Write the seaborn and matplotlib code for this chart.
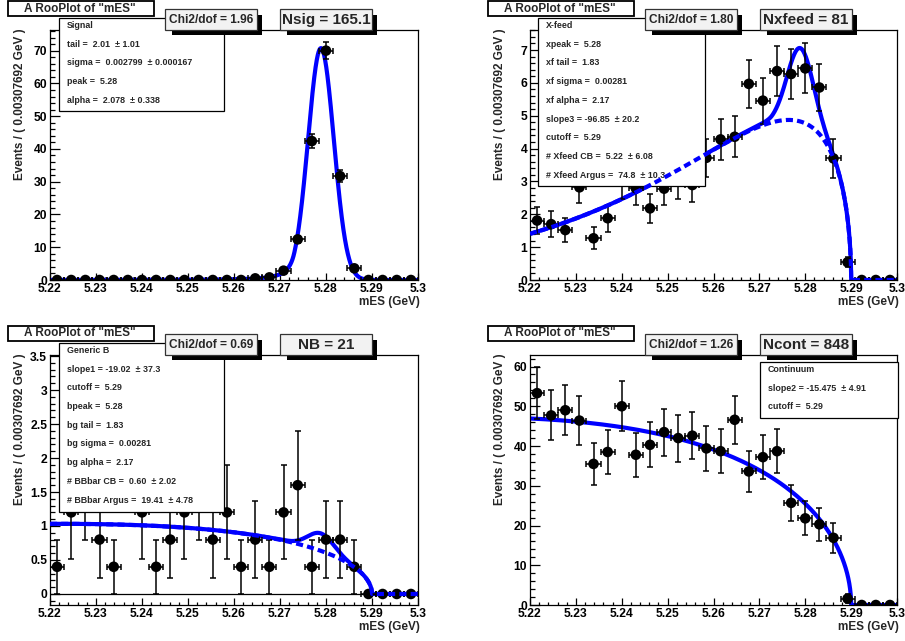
import numpy as np
import pandas as pd
import matplotlib
matplotlib.use("Agg")
import matplotlib.pyplot as plt
from matplotlib.patches import Rectangle
from matplotlib.ticker import MultipleLocator, FuncFormatter
import seaborn as sns

# ---------------- data: weighted event counts per mES bin ----------------
mes_lo, mes_hi, n_bins = 5.22, 5.30, 26

signal_counts = [0, 0, 0, 0, 0, 0, 0, 0, 0, 0, 0, 0, 0, 0, 0.5, 0.8, 2.85, 12.4,
                 42.4, 70.0, 31.7, 3.56, 0, 0, 0, 0]
signal_errors = [0, 0, 0, 0, 0, 0, 0, 0, 0, 0, 0, 0, 0, 0, 0.23, 0.29, 0.54, 1.14,
                 2.10, 2.70, 1.82, 0.61, 0, 0, 0, 0]

xfeed_counts = [1.81, 1.70, 1.52, 2.82, 1.27, 1.88, 3.00, 2.79, 2.18, 2.78, 3.00, 2.89,
                3.72, 4.28, 4.36, 5.97, 5.46, 6.36, 6.27, 6.44, 5.86, 3.70, 0.54, 0, 0, 0]
xfeed_errors = [0.40, 0.39, 0.37, 0.48, 0.34, 0.41, 0.52, 0.50, 0.44, 0.50, 0.52, 0.51,
                0.58, 0.62, 0.63, 0.73, 0.70, 0.76, 0.75, 0.76, 0.73, 0.58, 0.15, 0, 0, 0]

genb_counts = [0.4, 1.2, 1.6, 0.8, 0.4, 2.4, 1.2, 0.4, 0.8, 1.2, 1.6, 0.8, 1.2, 0.4,
               0.8, 0.4, 1.2, 1.6, 0.4, 0.8, 0.8, 0.4, 0, 0, 0, 0]
genb_errors = [0.40, 0.69, 0.80, 0.57, 0.40, 0.98, 0.69, 0.40, 0.57, 0.69, 0.80, 0.57,
               0.69, 0.40, 0.57, 0.40, 0.69, 0.80, 0.40, 0.57, 0.57, 0.40, 0, 0, 0, 0]

cont_counts = [53.3, 47.7, 49.0, 46.4, 35.5, 38.5, 50.0, 37.8, 40.3, 43.5, 42.0, 42.6,
               39.4, 38.7, 46.6, 33.6, 37.2, 38.7, 25.7, 21.8, 20.3, 16.9, 1.6, 0, 0, 0]
cont_errors = [6.6, 6.3, 6.3, 6.2, 5.3, 5.6, 6.3, 5.6, 5.7, 5.9, 5.9, 5.9,
               5.7, 5.6, 6.1, 5.2, 5.5, 5.6, 4.6, 4.3, 4.1, 3.8, 1.1, 0, 0, 0]

# ---------------- fit results ----------------
sig_tail, sig_tail_err = 2.01, 1.01
sig_sigma, sig_sigma_err = 0.002799, 0.000167
sig_peak = 5.2789
sig_alpha, sig_alpha_err = 2.078, 0.338
n_sig = 165.1
chi2_sig = 1.96

xf_peak, xf_tail, xf_sigma, xf_alpha = 5.2789, 1.83, 0.00281, 2.17
slope3, slope3_err = -96.85, 20.2
xf_cutoff = 5.29
n_xf_cb, n_xf_cb_err = 5.22, 6.08
n_xf_arg, n_xf_arg_err = 74.8, 10.3
n_xfeed = 81
chi2_xf = 1.80

slope1, slope1_err = -19.02, 37.3
bb_cutoff = 5.29
bb_peak, bb_tail, bb_sigma, bb_alpha = 5.2789, 1.83, 0.00281, 2.17
n_bb_cb, n_bb_cb_err = 0.60, 2.02
n_bb_arg, n_bb_arg_err = 19.41, 4.78
n_bb = 21
chi2_bb = 0.69

slope2, slope2_err = -15.475, 4.91
cont_cutoff = 5.29
n_cont = 848
chi2_cont = 1.26

# ---------------- model shapes ----------------
bin_width = (mes_hi - mes_lo) / n_bins
centers = mes_lo + bin_width * (np.arange(n_bins) + 0.5)
grid = np.linspace(mes_lo, mes_hi, 4001)


def argus(m, m0, c):
    t = 1.0 - (m / m0) ** 2
    tp = np.clip(t, 0.0, None)
    return np.where(t > 0, m * np.sqrt(tp) * np.exp(c * tp), 0.0)


def crystal_ball(m, m0, sigma, alpha, n):
    t = (m - m0) / sigma
    a = abs(alpha)
    A = (n / a) ** n * np.exp(-0.5 * a * a)
    B = n / a - a
    tail = A * np.maximum(B - t, 1e-9) ** (-n)
    return np.where(t > -a, np.exp(-0.5 * t * t), tail)


def normed(f):
    return f / np.trapezoid(f, grid)


sig_curve = n_sig * bin_width * normed(crystal_ball(grid, sig_peak, sig_sigma, sig_alpha, sig_tail))

xf_arg = n_xf_arg * bin_width * normed(argus(grid, xf_cutoff, slope3))
xf_cb = n_xf_cb * bin_width * normed(crystal_ball(grid, xf_peak, xf_sigma, xf_alpha, xf_tail))
xf_total = xf_arg + xf_cb

bb_arg = n_bb_arg * bin_width * normed(argus(grid, bb_cutoff, slope1))
bb_cb = n_bb_cb * bin_width * normed(crystal_ball(grid, bb_peak, bb_sigma, bb_alpha, bb_tail))
bb_total = bb_arg + bb_cb

cont_curve = n_cont * bin_width * normed(argus(grid, cont_cutoff, slope2))

# ---------------- figure ----------------
sns.set_style("white")
plt.rcParams["font.family"] = ["Liberation Sans", "DejaVu Sans"]
plt.rcParams["font.weight"] = "bold"

W, H = 905, 641
fig = plt.figure(figsize=(W / 100, H / 100), dpi=100)
fig.patch.set_facecolor("white")


def fx(px):
    return px / W


def fy(py):
    return 1 - py / H


def rect(x0, y0, x1, y1, **kw):
    return Rectangle((fx(x0), fy(y1)), (x1 - x0) / W, (y1 - y0) / H,
                     transform=fig.transFigure, **kw)


BLUE = "#0000ff"
DASH = (0, (1.7, 1.0))


def panel(frame, ylim, ymajor, yminor, counts, errors, solid, dashed,
          dx, dy, chi2, ntext, info_box, info_lines, zero_line=False):
    l, t, r, b = frame
    ax = fig.add_axes([fx(l), fy(b), (r - l) / W, (b - t) / H])
    ax.set_facecolor("white")

    sns.lineplot(data=pd.DataFrame({"mES": grid, "y": solid}), x="mES", y="y",
                 ax=ax, color=BLUE, linewidth=3.0, estimator=None, sort=False,
                 zorder=2)
    if dashed is not None:
        sns.lineplot(data=pd.DataFrame({"mES": grid, "y": dashed}), x="mES", y="y",
                     ax=ax, color=BLUE, linewidth=3.0, estimator=None, sort=False,
                     linestyle=DASH, zorder=5)
    if zero_line:
        ax.axhline(0, color="black", lw=0.9, zorder=2.4)

    ax.errorbar(centers, counts, xerr=bin_width / 2, yerr=errors, fmt="none",
                ecolor="black", elinewidth=1.1, capsize=2.4, capthick=1.1, zorder=3)
    sns.scatterplot(x=centers, y=counts, ax=ax, color="black", s=58,
                    edgecolor="none", linewidth=0, zorder=3.5, legend=False)

    ax.set_xlim(mes_lo, mes_hi)
    ax.set_ylim(*ylim)
    ax.set_xlabel("")
    ax.set_ylabel("")
    ax.xaxis.set_major_locator(MultipleLocator(0.01))
    ax.xaxis.set_minor_locator(MultipleLocator(0.002))
    ax.yaxis.set_major_locator(MultipleLocator(ymajor))
    ax.yaxis.set_minor_locator(MultipleLocator(yminor))
    fmt = FuncFormatter(lambda v, p: f"{round(v, 3):g}")
    ax.xaxis.set_major_formatter(fmt)
    ax.yaxis.set_major_formatter(fmt)
    ax.tick_params(axis="both", which="both", direction="in", color="black",
                   width=0.9, bottom=True, left=True, top=False, right=False,
                   labelsize=8.7, labelcolor="black")
    ax.tick_params(axis="x", which="major", length=5.0, pad=2.5)
    ax.tick_params(axis="x", which="minor", length=2.5)
    ax.tick_params(axis="y", which="major", length=7.5, pad=2)
    ax.tick_params(axis="y", which="minor", length=3.8)
    for s in ax.spines.values():
        s.set_color("black")
        s.set_linewidth(0.9)

    # axis titles
    fig.text(fx(l - 30), fy(t - 2), "Events / ( 0.00307692 GeV )", rotation=90,
             ha="center", va="top", fontsize=8.5, weight="bold")
    fig.text(fx(r + 2), fy(b + 22), "mES (GeV)", ha="right", va="center",
             fontsize=8.5, weight="bold")

    # parameter box sits between the solid and dashed curves
    bx0, by0, bx1, by1 = info_box
    ax.add_patch(rect(bx0, by0, bx1, by1, facecolor="white", edgecolor="black",
                      lw=0.9, clip_on=False, zorder=4))
    for i, line in enumerate(info_lines):
        ax.text(fx(bx0 + 8), fy(by0 + 7.5 + i * 18.7), line, transform=fig.transFigure,
                ha="left", va="center", fontsize=6.4, weight="bold", zorder=4.5,
                clip_on=False)

    # title box
    fig.add_artist(rect(dx + 8, dy + 1, dx + 154, dy + 16, facecolor="white",
                        edgecolor="black", lw=1.3, zorder=1.2))
    fig.text(fx(dx + 80), fy(dy + 8.5), 'A RooPlot of "mES"', ha="center", va="center",
             fontsize=8.5, weight="bold", zorder=1.3)

    # chi2 and yield boxes with drop shadow
    for (x0, x1, txt, fs) in [(dx + 165, dx + 257, chi2, 8.6),
                              (dx + 280, dx + 372, ntext, 11.0)]:
        y0, y1 = dy + 9, dy + 30
        fig.add_artist(rect(x0 + 7, y0 + 6, x1 + 5, y1 + 5, facecolor="black",
                            edgecolor="none", zorder=1.4))
        fig.add_artist(rect(x0, y0, x1, y1, facecolor="#f2f2f2", edgecolor="#333333",
                            lw=0.9, zorder=1.5))
        fig.text(fx((x0 + x1) / 2), fy((y0 + y1) / 2 + 0.5), txt, ha="center",
                 va="center", fontsize=fs, weight="bold", zorder=1.6)
    return ax


panel((50, 30, 418, 280), (0, 76.3), 10, 2, signal_counts, signal_errors,
      sig_curve, None, 0, 0, f"Chi2/dof = {chi2_sig:.2f}", f"Nsig = {n_sig:.1f}",
      (59, 18, 224, 111),
      ["Signal",
       f"tail =  {sig_tail:.2f}  \u00b1 {sig_tail_err:.2f}",
       f"sigma =  {sig_sigma:.6f}  \u00b1 {sig_sigma_err:.6f}",
       f"peak =  {sig_peak:.2f}",
       f"alpha =  {sig_alpha:.3f}  \u00b1 {sig_alpha_err:.3f}"])

panel((530, 30, 897, 280), (0, 7.61), 1, 0.2, xfeed_counts, xfeed_errors,
      xf_total, xf_arg, 480, 0, f"Chi2/dof = {chi2_xf:.2f}", f"Nxfeed = {n_xfeed}",
      (538, 18, 705, 186),
      ["X-feed",
       f"xpeak =  {xf_peak:.2f}",
       f"xf tail =  {xf_tail:.2f}",
       f"xf sigma =  {xf_sigma:.5f}",
       f"xf alpha =  {xf_alpha:.2f}",
       f"slope3 = {slope3:.2f}  \u00b1 {slope3_err:.1f}",
       f"cutoff =  {xf_cutoff:.2f}",
       f"# Xfeed CB =  {n_xf_cb:.2f}  \u00b1 {n_xf_cb_err:.2f}",
       f"# Xfeed Argus =  {n_xf_arg:.1f}  \u00b1 {n_xf_arg_err:.1f}"])

panel((50, 355, 418, 605), (-0.162, 3.515), 0.5, 0.1, genb_counts, genb_errors,
      bb_total, bb_arg, 0, 325, f"Chi2/dof = {chi2_bb:.2f}", f"NB = {n_bb}",
      (59, 343, 224, 512),
      ["Generic B",
       f"slope1 = {slope1:.2f}  \u00b1 {slope1_err:.1f}",
       f"cutoff =  {bb_cutoff:.2f}",
       f"bpeak =  {bb_peak:.2f}",
       f"bg tail =  {bb_tail:.2f}",
       f"bg sigma =  {bb_sigma:.5f}",
       f"bg alpha =  {bb_alpha:.2f}",
       f"# BBbar CB =  {n_bb_cb:.2f}  \u00b1 {n_bb_cb_err:.2f}",
       f"# BBbar Argus =  {n_bb_arg:.2f}  \u00b1 {n_bb_arg_err:.2f}"],
      zero_line=True)

panel((530, 355, 897, 605), (0, 62.9), 10, 2, cont_counts, cont_errors,
      cont_curve, None, 480, 325, f"Chi2/dof = {chi2_cont:.2f}", f"Ncont = {n_cont}",
      (760, 362, 898, 418),
      ["Continuum",
       f"slope2 = {slope2:.3f}  \u00b1 {slope2_err:.2f}",
       f"cutoff =  {cont_cutoff:.2f}"])

fig.savefig("out.png", dpi=100, facecolor="white")
